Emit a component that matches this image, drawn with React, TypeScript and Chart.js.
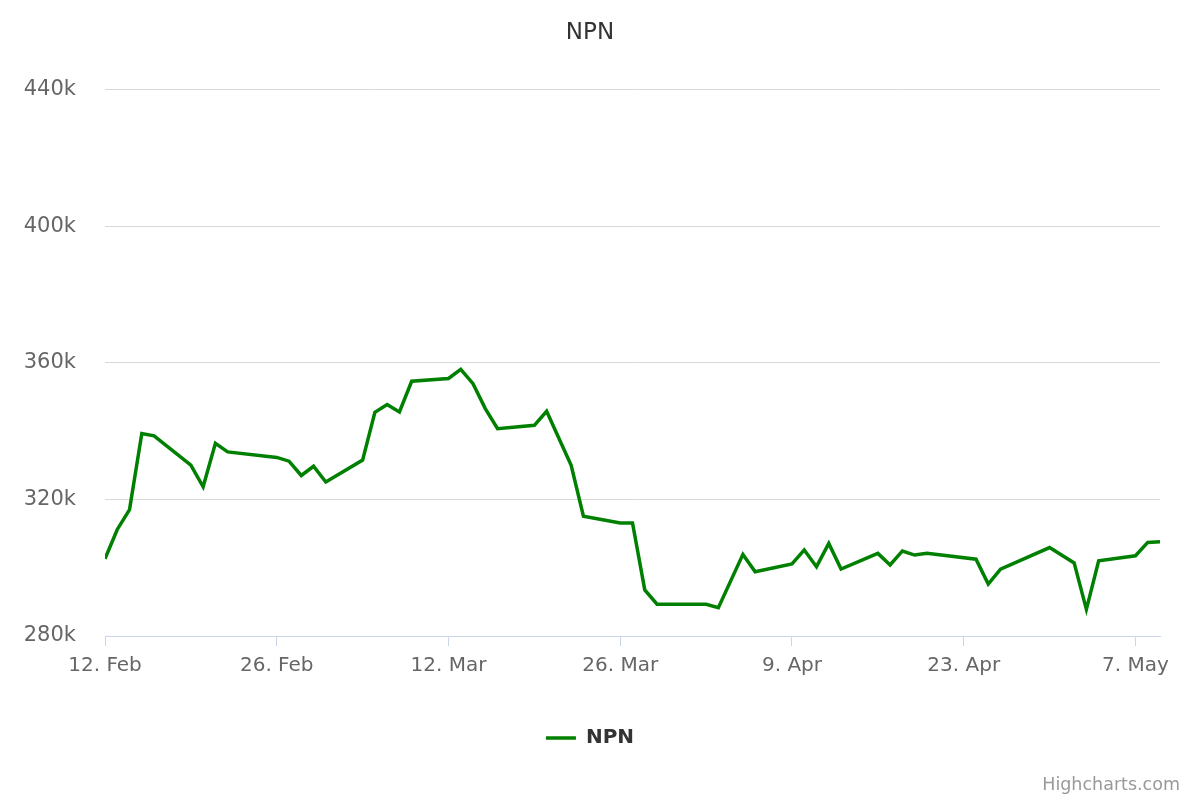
import React, { useEffect, useRef } from "react";
import { Chart, registerables } from "chart.js";

Chart.register(...registerables);

// Day offsets counted from 12 Feb (trading days)
const dayOffsets = [
  0, 1, 2, 3, 4, 7, 8, 9, 10, 14, 15, 16, 17, 18, 21, 22, 23, 24, 25, 28, 29, 30,
  31, 32, 35, 36, 38, 39, 42, 43, 44, 45, 49, 50, 52, 53, 56, 57, 58, 59, 60, 63,
  64, 65, 66, 67, 71, 72, 73, 77, 79, 80, 81, 84, 85, 86,
];

const npnValues = [
  302600, 311200, 317000, 339300, 338600, 330000, 323700, 336400, 333900, 332300,
  331200, 327000, 329700, 325100, 331500, 345500, 347800, 345600, 354600, 355400,
  358100, 353900, 346600, 340700, 341700, 345800, 330000, 315100, 313100, 313100,
  293500, 289300, 289300, 288300, 303900, 298800, 301100, 305200, 300300, 307100,
  299600, 304200, 300800, 304900, 303700, 304200, 302500, 295200, 299600, 305900,
  301400, 287800, 302000, 303500, 307400, 307600,
];

const xTickDays = [0, 14, 28, 42, 56, 70, 84];
const xTickLabels = ["12. Feb", "26. Feb", "12. Mar", "26. Mar", "9. Apr", "23. Apr", "7. May"];

const yMin = 280000;
const yMax = 440000;
const yStep = 40000;

const seriesName = "NPN";
const titleText = "NPN";
const creditText = "Highcharts.com";

const creditsPlugin = {
  id: "credits",
  afterDraw(chart: any) {
    const ctx = chart.ctx;
    ctx.save();
    ctx.font = '17.5px "DejaVu Sans"';
    ctx.fillStyle = "#999999";
    ctx.textAlign = "right";
    ctx.textBaseline = "middle";
    ctx.fillText(creditText, 1180, 785);
    ctx.restore();
  },
};

export default function App() {
  const canvasRef = useRef<HTMLCanvasElement | null>(null);

  useEffect(() => {
    if (!canvasRef.current) return;
    Chart.defaults.font.family = '"DejaVu Sans", sans-serif';
    const points = dayOffsets.map((d, i) => ({ x: d, y: npnValues[i] }));
    const chart = new Chart(canvasRef.current, {
      type: "line",
      data: {
        datasets: [
          {
            label: seriesName,
            data: points,
            borderColor: "#008000",
            backgroundColor: "#008000",
            borderWidth: 3.5,
            pointRadius: 0,
            tension: 0,
            fill: false,
          },
        ],
      },
      options: {
        responsive: false,
        animation: false,
        devicePixelRatio: 1,
        layout: { padding: { left: 20, right: 40, top: 0, bottom: 42 } },
        plugins: {
          title: {
            display: true,
            text: titleText,
            color: "#333333",
            font: { size: 23, weight: "normal" },
            padding: { top: 19, bottom: 43 },
          },
          legend: {
            display: true,
            position: "bottom",
            labels: {
              color: "#333333",
              font: { size: 20, weight: "bold" },
              usePointStyle: true,
              pointStyle: "line",
              pointStyleWidth: 30,
              boxHeight: 20,
              padding: 10,
            },
          },
          tooltip: { enabled: false },
        },
        scales: {
          x: {
            type: "linear",
            min: 0,
            max: 86,
            afterBuildTicks: (scale: any) => {
              scale.ticks = xTickDays.map((v) => ({ value: v }));
            },
            afterFit: (scale: any) => {
              scale.height = 82;
            },
            ticks: {
              autoSkip: false,
              maxRotation: 0,
              color: "#666666",
              font: { size: 20 },
              padding: 8,
              callback: (v: any) => {
                const i = xTickDays.indexOf(Number(v));
                return i >= 0 ? xTickLabels[i] : "";
              },
            },
            grid: {
              display: true,
              drawOnChartArea: false,
              drawTicks: true,
              tickLength: 10,
              color: "#ccd6eb",
              lineWidth: 1,
            },
            border: { display: true, color: "#ccd6eb", width: 1 },
          },
          y: {
            min: yMin,
            max: yMax,
            afterFit: (scale: any) => {
              scale.width = 85;
            },
            ticks: {
              stepSize: yStep,
              color: "#666666",
              font: { size: 21 },
              padding: 29,
              callback: (v: any) => Number(v) / 1000 + "k",
            },
            grid: {
              color: "#d8d8d8",
              lineWidth: 1,
              drawTicks: false,
            },
            border: { display: false },
          },
        },
      },
      plugins: [creditsPlugin],
    });
    return () => chart.destroy();
  }, []);

  return (
    <div style={{ position: "absolute", left: 0, top: 0, width: 1200, height: 800, background: "#ffffff" }}>
      <canvas ref={canvasRef} width={1200} height={800} />
    </div>
  );
}
